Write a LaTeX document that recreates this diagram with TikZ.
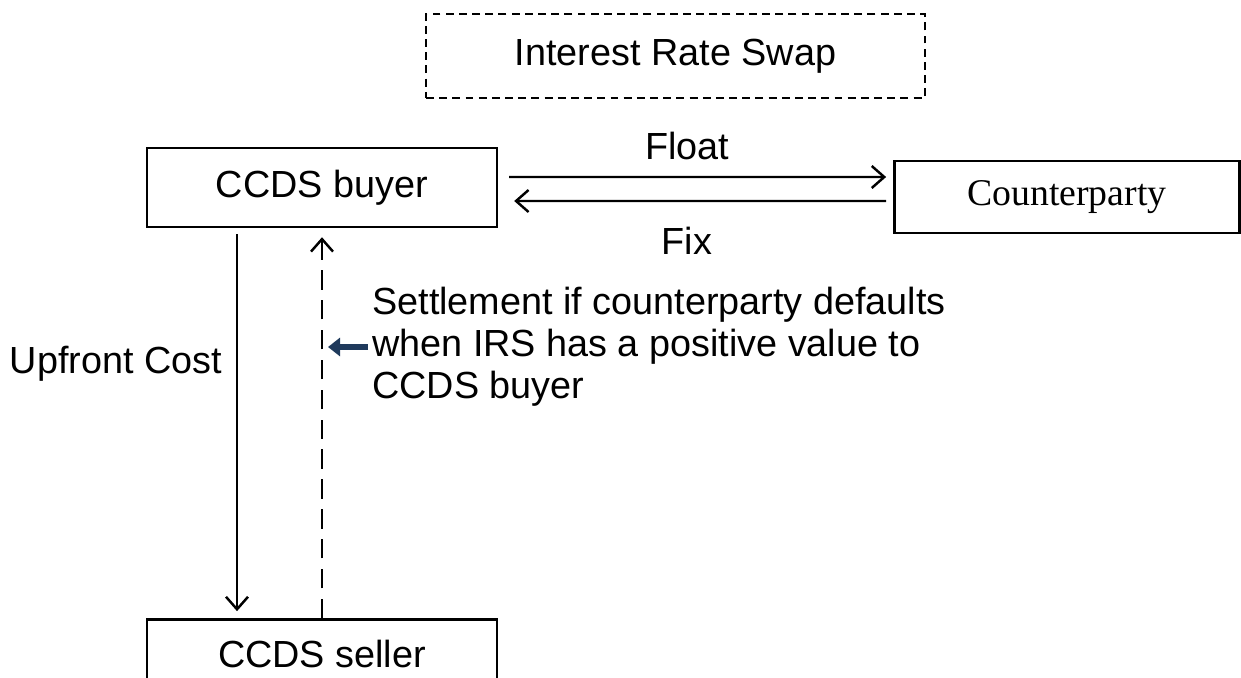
\documentclass[tikz,border=0pt]{standalone}
\usepackage{fontspec}
\setmainfont{Liberation Sans}
\newfontfamily\timesfont{Liberation Serif}
\usetikzlibrary{arrows.meta,positioning,calc}
\definecolor{navy}{HTML}{1F3A5C}
\tikzset{box/.style={draw,line width=1.4pt,inner sep=0pt,minimum width=7cm,minimum height=1.58cm,font=\fontsize{21.5}{24}\selectfont}, dashbox/.style={box,line width=1.2pt,dash pattern=on 4.5pt off 3pt,minimum width=9.98cm,minimum height=1.68cm}, flow/.style={-{Straight Barb[length=2.5mm,width=4.4mm]},line width=1.4pt}, dashflow/.style={flow,dash pattern=on 11pt off 6pt}, pointer/.style={-{Triangle[length=2.4mm,width=3.6mm]},line width=1.3mm,draw=navy}, lbl/.style={font=\fontsize{21.5}{24}\selectfont,inner sep=0pt}}
\begin{document}
\begin{tikzpicture}[x=0.02cm,y=-0.02cm]
\clip (0,0) rectangle (1241,677);
\node[dashbox] (irs) at (675.5,56) {Interest Rate Swap};
\node[box] (buyer) at (322,187.5) {CCDS buyer};
\node[box,minimum width=6.9cm,minimum height=1.44cm,font=\timesfont\fontsize{21.5}{24}\selectfont,right=7.9cm of buyer,yshift=-0.19cm] (cpty) {Counterparty};
\node[box,minimum height=1.4cm,below=7.8cm of buyer] (seller) {CCDS seller};
\node[lbl] (float) at (687,146) {Float};
\node[lbl] (fix) at (687,241) {Fix};
\node[lbl] (upfront) at (116,364) {Upfront Cost};
\node[lbl,anchor=west,align=left] (settle) at (372,347) {Settlement if counterparty defaults\\when IRS has a positive value to\\CCDS buyer};
\draw[flow] ($(buyer.east)+(11,-10.5)$) -- ($(cpty.west)+(-7,-20)$);
\draw[flow] ($(cpty.west)+(-7,4)$) -- ($(buyer.east)+(16,13.5)$);
\draw[flow] ($(buyer.south)+(-85,6)$) -- ($(seller.north)+(-85,-7)$);
\draw[dashflow] (seller.north) -- ($(buyer.south)+(0,9)$);
\draw[pointer] ($(settle.west)+(-4,0)$) -- ($(settle.west -| buyer.south)+(6,0)$);
\end{tikzpicture}
\end{document}
